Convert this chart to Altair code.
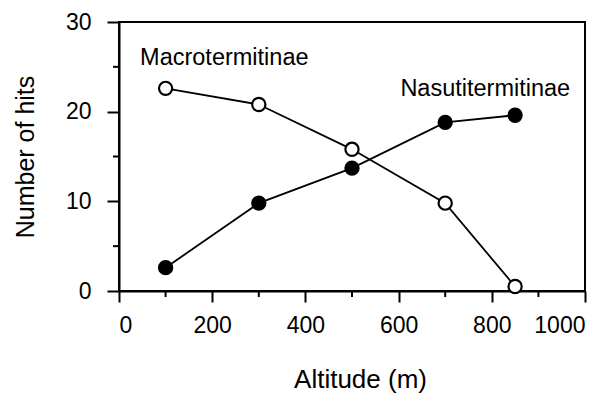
import altair as alt
import pandas as pd

altitude = [100, 300, 500, 700, 850]
macro = [22.6, 20.8, 15.8, 9.8, 0.5]
nasuti = [2.6, 9.8, 13.7, 18.8, 19.6]
series_names = ["Macrotermitinae", "Nasutitermitinae"]

x_major = [0, 200, 400, 600, 800, 1000]
x_minor = [100, 300, 500, 700, 900]
y_major = [0, 10, 20, 30]
y_minor = [5, 15, 25]

label_text = ["Macrotermitinae", "Nasutitermitinae"]
label_x = [226, 786]
label_y = [25.2, 21.7]

rows = []
for a, m, n in zip(altitude, macro, nasuti):
    rows.append({"alt": a, "hits": m, "series": series_names[0]})
    rows.append({"alt": a, "hits": n, "series": series_names[1]})
df = pd.DataFrame(rows)

FONT = "Liberation Sans"
W, H = 466, 269

xs = alt.Scale(domain=[0, 1000], nice=False)
ys = alt.Scale(domain=[0, 30], nice=False)

xenc = alt.X("alt:Q", scale=xs, axis=alt.Axis(
    values=x_major, format="d", title="Altitude (m)", grid=False, tickSize=11, tickWidth=2,
    tickColor="black", domainColor="black", domainWidth=2, labelFont=FONT,
    labelFontSize=23, labelColor="black", labelPadding=12, titleFont=FONT,
    titleFontSize=26, titleFontWeight="normal", titleColor="black",
    titleX=241, titleY=96, titleBaseline="alphabetic", titleAnchor="middle"))
yenc = alt.Y("hits:Q", scale=ys, axis=alt.Axis(
    values=y_major, format="d", title="Number of hits", grid=False, tickSize=12, tickWidth=2,
    tickColor="black", domainColor="black", domainWidth=2, labelFont=FONT,
    labelFontSize=23, labelColor="black", labelPadding=16, titleFont=FONT,
    titleFontSize=25, titleFontWeight="normal", titleColor="black",
    titleX=-86, titleY=H / 2, titleBaseline="alphabetic", titleAngle=-90,
    titleAnchor="middle"))

base = alt.Chart(df)

lines = base.mark_line(color="black", strokeWidth=1.8).encode(
    x=xenc, y=yenc, detail="series:N")

filled = base.transform_filter(alt.datum.series == series_names[1]).mark_point(
    shape="circle", filled=True, color="black", size=235, opacity=1).encode(
    x=alt.X("alt:Q", scale=xs), y=alt.Y("hits:Q", scale=ys))

openpts = base.transform_filter(alt.datum.series == series_names[0]).mark_point(
    shape="circle", filled=True, fill="white", stroke="black", strokeWidth=2.2,
    size=175, opacity=1).encode(
    x=alt.X("alt:Q", scale=xs), y=alt.Y("hits:Q", scale=ys))

xminor = alt.Chart(pd.DataFrame({"v": x_minor})).mark_rule(
    color="black", strokeWidth=2, clip=False).encode(
    x=alt.X("v:Q", scale=xs), y=alt.value(H), y2=alt.value(H + 6))

yminor = alt.Chart(pd.DataFrame({"v": y_minor})).mark_rule(
    color="black", strokeWidth=2, clip=False).encode(
    y=alt.Y("v:Q", scale=ys), x=alt.value(0), x2=alt.value(-6))

labels = alt.Chart(pd.DataFrame({"t": label_text, "x": label_x, "y": label_y})).mark_text(
    font=FONT, fontSize=23.5, color="black", align="center", baseline="alphabetic").encode(
    x=alt.X("x:Q", scale=xs), y=alt.Y("y:Q", scale=ys), text="t:N")

chart = alt.layer(lines, filled, openpts, xminor, yminor, labels).properties(
    width=W, height=H,
    autosize=alt.AutoSizeParams(type="none"),
    padding={"left": 111, "top": 14, "right": 10, "bottom": 103},
    background="white",
).configure_view(stroke="black", strokeWidth=2)

chart.save("out.html", embed_options={"renderer": "svg", "actions": False})
